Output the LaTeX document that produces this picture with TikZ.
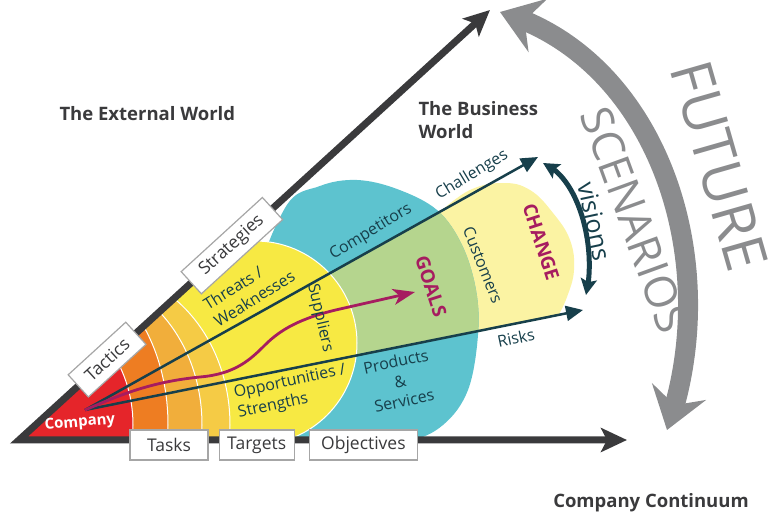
\documentclass[tikz,border=0pt]{standalone}
\usepackage{fontspec}
\setmainfont{Open Sans}
\usetikzlibrary{arrows.meta,positioning,bending}
\definecolor{bizred}{HTML}{E5252A}
\definecolor{bizorange}{HTML}{EE7D22}
\definecolor{bizgold}{HTML}{F1AE3B}
\definecolor{bizpale}{HTML}{F5CB45}
\definecolor{bizyellow}{HTML}{F7E943}
\definecolor{bizteal}{HTML}{5DC3CF}
\definecolor{bizgreen}{HTML}{B5D58E}
\definecolor{bizcream}{HTML}{FBF3A3}
\definecolor{bizink}{HTML}{173F4B}
\definecolor{bizplum}{HTML}{A61C60}
\definecolor{bizgray}{HTML}{8B8C8E}
\definecolor{bizdark}{HTML}{3A3A3C}

\begin{document}
\begin{tikzpicture}[x=1pt,y=-1pt,
  tag/.style={draw=gray!70,line width=1.2pt,fill=white,inner xsep=4pt,minimum height=30pt,
    font=\fontsize{17.5}{17.5}\selectfont,text=bizdark},
  lbl/.style={text=bizink,font=\fontsize{16}{20}\selectfont},
  big/.style={text=bizplum,font=\bfseries\fontsize{19}{19}\selectfont},
  head/.style={text=bizdark,font=\bfseries\fontsize{18.5}{23}\selectfont,align=left}]
\useasboundingbox (0,0) rectangle (772,521);

\coordinate (apex) at (19,440);
\coordinate (outer) at (490,10);
\coordinate (cont) at (627,440);
\coordinate (hub) at (85,410);
\coordinate (chal) at (538,157);
\coordinate (risk) at (583,310);
\coordinate (goal) at (415,292);

\fill[bizcream] (hub) -- plot[smooth,tension=0.7] coordinates {(440,212) (470,190) (503,183)
  (530,190) (553,213) (570,240) (574,270) (567,297) (558,316)} -- cycle;

\begin{scope}
\clip (apex) -- (outer) -- (772,10) -- (772,440) -- cycle;
\fill[bizteal] plot[smooth cycle,tension=0.6] coordinates {(285,208) (320,186) (357,180) (397,189)
  (437,210) (462,245) (476,290) (478,335) (468,390) (443,425) (405,442) (330,450) (270,430) (255,300)};
\begin{scope}
\clip (hub) -- (chal) -- (risk) -- cycle;
\fill[bizgreen] plot[smooth cycle,tension=0.6] coordinates {(285,208) (320,186) (357,180) (397,189)
  (437,210) (462,245) (476,290) (478,335) (468,390) (443,425) (405,442) (330,450) (270,430) (255,300)};
\end{scope}
\filldraw[fill=bizyellow,draw=white,line width=1pt] (255,343) circle[radius=102];
\filldraw[fill=bizpale,draw=white,line width=1pt] (100,425) ellipse[x radius=130,y radius=154];
\filldraw[fill=bizgold,draw=white,line width=1pt] (80,425) ellipse[x radius=122,y radius=149];
\filldraw[fill=bizorange,draw=white,line width=1pt] (60,425) ellipse[x radius=108,y radius=156];
\filldraw[fill=bizred,draw=white,line width=1pt] (40,425) ellipse[x radius=93,y radius=114];
\end{scope}

\draw[bizink,line width=2.5pt,-{Triangle[length=17pt,width=15pt]}] (hub) -- (chal);
\draw[bizink,line width=2.5pt,-{Triangle[length=17pt,width=15pt]}] (hub) -- (risk);
\draw[bizplum,line width=2.8pt,-{Stealth[length=22pt,width=16pt,inset=6pt]}]
  (hub) .. controls (120,395) and (150,382) .. (200,377)
  .. controls (235,374) and (250,360) .. (265,345)
  .. controls (280,330) and (300,318) .. (340,309) -- (goal);

\draw[bizdark,line width=7pt,line join=miter,
  {Stealth[length=26pt,width=24pt,inset=6pt]}-{Stealth[length=26pt,width=24pt,inset=6pt]}]
  (outer) -- (apex) -- (cont);
\path (apex) -- (outer)
  node[tag,sloped,pos=0.187,minimum width=78pt] (tactics) {Tactics}
  node[tag,sloped,pos=0.452,minimum width=110pt] (strategies) {Strategies};
\node[tag,minimum width=78pt] (tasks) at (169,445) {Tasks};
\node[tag,minimum width=75pt,right=10pt of tasks] (targets) {Targets};
\node[tag,minimum width=108pt,right=14pt of targets] (objectives) {Objectives};

\draw[bizgray,line width=20pt,
  {Stealth[length=40pt,width=56pt,inset=14pt]}-{Stealth[length=40pt,width=56pt,inset=14pt]}]
  (500,12) .. controls (658,58) and (726,262) .. (667,430);
\draw[bizink,line width=5pt,
  {Stealth[length=16pt,width=16pt,inset=3pt]}-{Stealth[length=16pt,width=16pt,inset=3pt]}]
  (543,163) .. controls (580,178) and (597,250) .. (586,295);

\node[head,anchor=west] (external) at (56,114) {The External World};
\node[head,anchor=north west] (business) at (415,98) {The Business\\World};
\node[head] (continuum) at (651,503) {Company Continuum};

\node[text=white,font=\bfseries\fontsize{15}{15}\selectfont,rotate=5] (company) at (80,423) {Company};
\node[lbl,rotate=32,align=left] (threats) at (249,290) {Threats /\\Weaknesses};
\node[lbl,rotate=-77] (suppliers) at (320,318) {Suppliers};
\node[lbl,rotate=31] (competitors) at (371,232) {Competitors};
\node[lbl,rotate=31] (challenges) at (472,175) {Challenges};
\node[lbl,rotate=-68] (customers) at (483,265) {Customers};
\node[lbl,rotate=12,align=left] (opps) at (292,392) {Opportunities /\\Strengths};
\node[lbl,rotate=12,align=center] (products) at (400,381) {Products\\\&\\Services};
\node[lbl,rotate=12] (risks) at (516,338) {Risks};
\node[big,rotate=-72] (goals) at (431,286) {GOALS};
\node[big,rotate=-72] (change) at (541,242) {CHANGE};
\node[text=bizink,font=\fontsize{25}{25}\selectfont,rotate=-78,inner sep=0pt] (visions) at (595,221) {visions};
\node[text=bizgray,font=\fontsize{58}{58}\selectfont,rotate=-74,inner sep=0pt] (future) at (719,166) {FUTURE};
\node[text=bizgray,font=\fontsize{44}{44}\selectfont,rotate=-70,inner sep=0pt] (scenarios) at (635,220) {SCENARIOS};
\end{tikzpicture}
\end{document}
